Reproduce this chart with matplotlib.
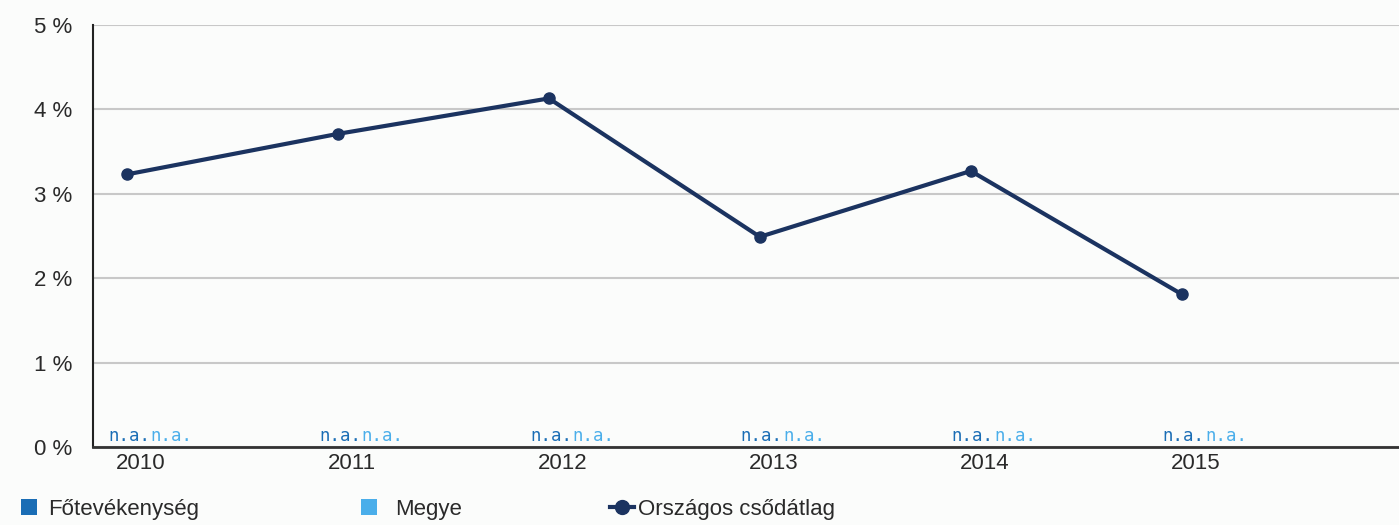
import matplotlib
matplotlib.use("Agg")
import matplotlib.pyplot as plt
import matplotlib.transforms as mtransforms
from matplotlib.lines import Line2D
from matplotlib.patches import Patch

years = ["2010", "2011", "2012", "2013", "2014", "2015"]
orszagos = [3.23, 3.71, 4.13, 2.49, 3.27, 1.81]
fotev_labels = ["n.a.", "n.a.", "n.a.", "n.a.", "n.a.", "n.a."]
megye_labels = ["n.a.", "n.a.", "n.a.", "n.a.", "n.a.", "n.a."]
yticks = [0, 1, 2, 3, 4, 5]
ytick_labels = ["0 %", "1 %", "2 %", "3 %", "4 %", "5 %"]
series_names = ["Főtevékenység", "Megye", "Országos csődátlag"]

c_line = "#1b3360"
c_fotev = "#1a6db5"
c_megye = "#4aaeea"
bg = "#fbfcfb"
W, H = 1399, 525

fig = plt.figure(figsize=(13.99, 5.25), dpi=100, facecolor=bg)
ax = fig.add_axes([0.0665, 0.1486, 0.9335, 0.8038], facecolor=bg)

x = list(range(len(years)))
ax.plot(x, orszagos, color=c_line, lw=3, marker="o", ms=8, zorder=3)

for i in x:
    ax.text(i - 0.09, 0.02, fotev_labels[i], color=c_fotev, fontsize=12.5,
            family="DejaVu Sans Mono", ha="left", va="bottom")
    ax.text(i + 0.112, 0.02, megye_labels[i], color=c_megye, fontsize=12.5,
            family="DejaVu Sans Mono", ha="left", va="bottom")

ax.set_xlim(-0.161, 6.03)
ax.set_ylim(0, 5)
ax.set_yticks(yticks)
ax.set_yticklabels(ytick_labels)
ax.set_xticks(x)
ax.set_xticklabels(years)
ax.grid(axis="y", color="#c8c8c8", lw=1.5)
ax.set_axisbelow(True)
ax.tick_params(length=0, labelsize=16, colors="#2a2a2a")
ax.tick_params(axis="y", pad=15)
ax.tick_params(axis="x", pad=4)
shift = mtransforms.ScaledTranslation(0.14, 0, fig.dpi_scale_trans)
for lab in ax.get_xticklabels():
    lab.set_transform(lab.get_transform() + shift)
for lab in ax.get_xticklabels() + ax.get_yticklabels():
    lab.set_family("Liberation Sans")
for s in ["top", "right"]:
    ax.spines[s].set_visible(False)
ax.spines["left"].set_color("#222222")
ax.spines["left"].set_linewidth(1.5)
ax.spines["bottom"].set_color("#333333")
ax.spines["bottom"].set_linewidth(2)

handles = [
    Patch(facecolor=c_fotev, edgecolor="none"),
    Patch(facecolor=c_megye, edgecolor="none"),
    Line2D([0], [0], color=c_line, lw=3, marker="o", ms=10),
]
xpos = [21, 361, 610]
hlen = [0.7, 0.7, 1.1]
tpad = [0.5, 0.85, 0.15]
for h, name, xp, hl, tp in zip(handles, series_names, xpos, hlen, tpad):
    fig.legend([h], [name], loc="center left", bbox_to_anchor=(xp / W, 1 - 509 / H),
               frameon=False, prop={"family": "Liberation Sans", "size": 16},
               handlelength=hl, handleheight=0.75, handletextpad=tp,
               borderpad=0, borderaxespad=0, labelcolor="#2a2a2a")

fig.savefig("out.png", dpi=100, facecolor=bg)
